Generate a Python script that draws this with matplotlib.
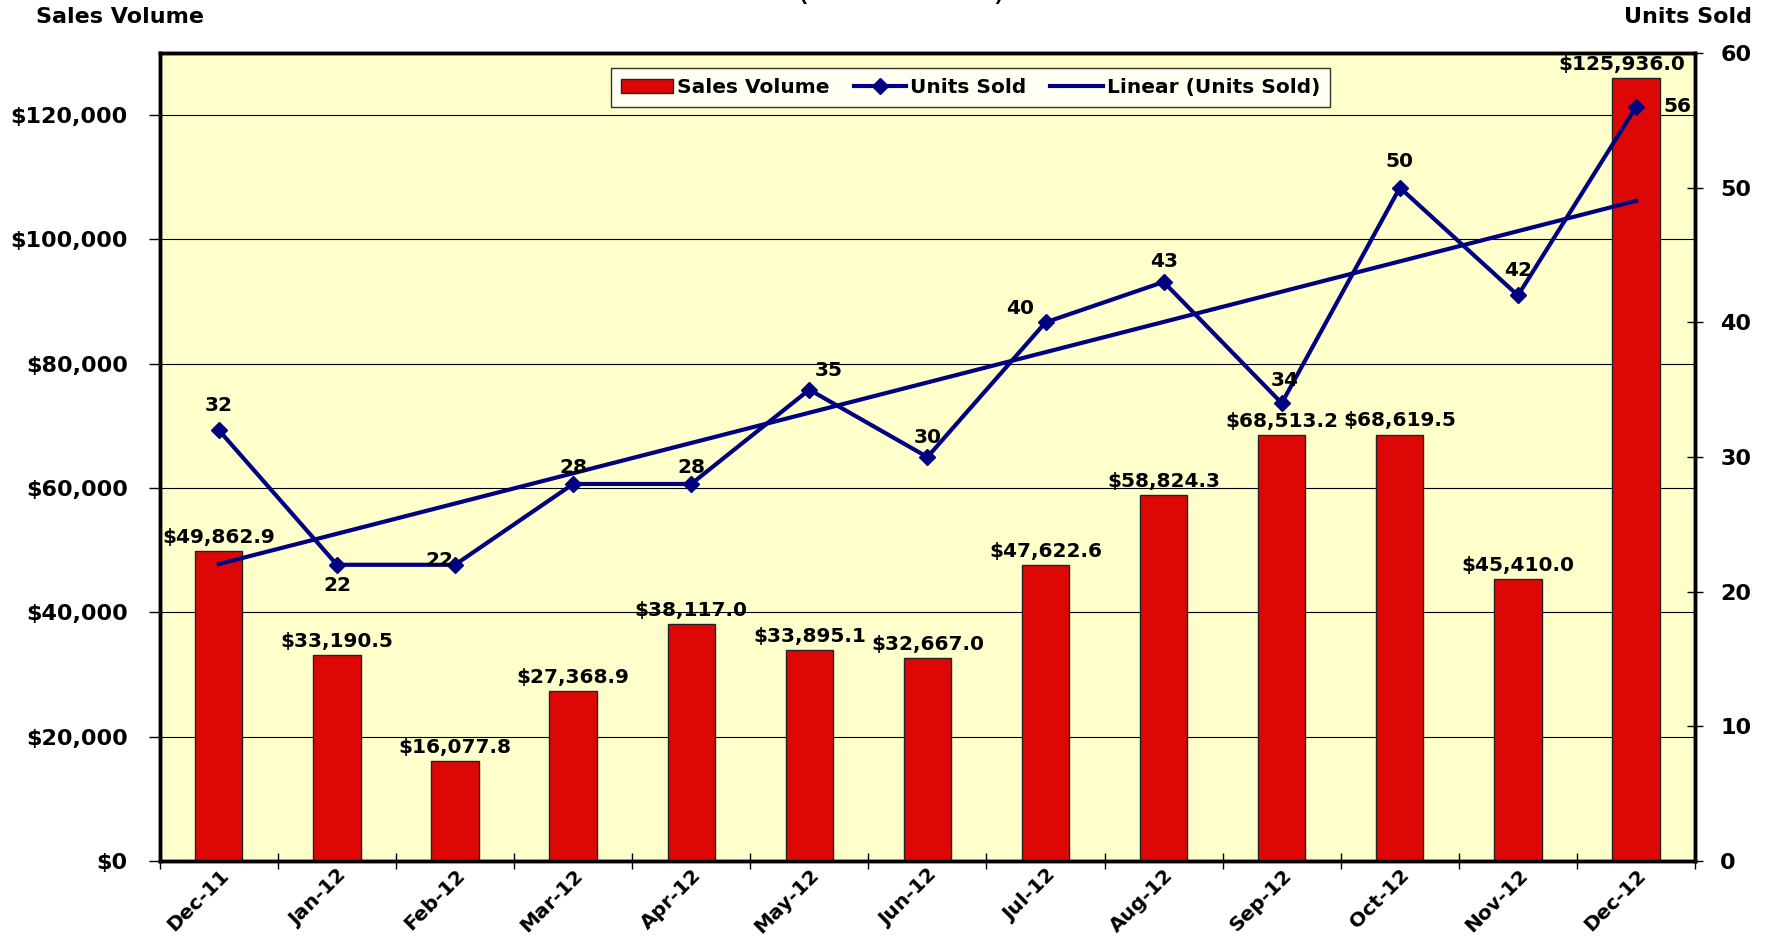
import matplotlib
matplotlib.use("Agg")
import matplotlib.pyplot as plt
from matplotlib.ticker import FuncFormatter, FixedLocator
from matplotlib.lines import Line2D
from matplotlib.patches import Patch
import numpy as np

plt.rcParams['font.family'] = ['DejaVu Sans']
plt.rcParams['font.weight'] = 'bold'

months = ["Dec-11", "Jan-12", "Feb-12", "Mar-12", "Apr-12", "May-12", "Jun-12",
          "Jul-12", "Aug-12", "Sep-12", "Oct-12", "Nov-12", "Dec-12"]
sales_volume = [49862.9, 33190.5, 16077.8, 27368.9, 38117.0, 33895.1, 32667.0,
                47622.6, 58824.3, 68513.2, 68619.5, 45410.0, 125936.0]
units_sold = [32, 22, 22, 28, 28, 35, 30, 40, 43, 34, 50, 42, 56]

# label offsets (points)
unit_offsets = [(0, 18), (0, -15), (-11, 3), (0, 12), (0, 12), (14, 14), (0, 14),
                (-18, 10), (0, 15), (2, 16), (0, 19), (0, 18), (30, 0)]
bar_label_dx = [0, 0, 0, 0, 0, 0, 0, 0, 0, 0, 0, 0, -10]

NAVY = "#000080"
RED = "#DD0806"
BG = "#FFFFCC"

fig = plt.figure(figsize=(17.75, 9.38), dpi=100)
ax = fig.add_axes([0.090, 0.082, 0.865, 0.8615])
ax.set_facecolor(BG)
x = np.arange(len(months))

ax.bar(x, sales_volume, width=0.4, color=RED, edgecolor="#222222", linewidth=1.0, zorder=3)
ax.set_xlim(-0.5, len(months) - 0.5)
ax.set_ylim(0, 130000)
ax.yaxis.set_major_locator(FixedLocator(np.arange(0, 130001, 20000)))
ax.yaxis.set_major_formatter(FuncFormatter(lambda v, p: "${:,.0f}".format(v)))
ax.grid(axis='y', color='black', linewidth=0.8, zorder=1)
ax.set_axisbelow(True)

for xi, v, dx in zip(x, sales_volume, bar_label_dx):
    ax.annotate("${:,.1f}".format(v), (xi, v), xytext=(dx, 3), textcoords='offset points',
                ha='center', va='bottom', fontsize=14.5, fontweight='bold', zorder=6)

ax.set_xticks(x)
ax.set_xticklabels(months, rotation=45, ha='right', rotation_mode='anchor',
                   fontsize=14.5, fontweight='bold')
ax.tick_params(axis='x', which='major', length=0, pad=3)
ax.set_xticks(np.arange(-0.5, len(months), 1), minor=True)
ax.tick_params(axis='x', which='minor', length=12, direction='inout', width=1)
ax.tick_params(axis='y', labelsize=16, length=8, width=1, direction='out', pad=15)
for lab in ax.get_yticklabels():
    lab.set_fontweight('bold')
for s in ax.spines.values():
    s.set_linewidth(2.5)

ax2 = ax.twinx()
ax2.set_ylim(0, 60)
ax2.set_yticks(np.arange(0, 61, 10))
ax2.tick_params(axis='y', labelsize=16, length=12, width=1, direction='inout', pad=12)
for lab in ax2.get_yticklabels():
    lab.set_fontweight('bold')
for s in ax2.spines.values():
    s.set_linewidth(2.5)

ax2.plot(x, units_sold, color=NAVY, linewidth=3, marker='D', markersize=8, zorder=5)
coef = np.polyfit(x, units_sold, 1)
ax2.plot(x, np.polyval(coef, x), color=NAVY, linewidth=3, zorder=4)

for xi, v, off in zip(x, units_sold, unit_offsets):
    t = ax2.annotate(str(v), (xi, v), xytext=off, textcoords='offset points',
                     ha='center', va='center', fontsize=14.5, fontweight='bold', zorder=7)
    t.set_clip_on(True)

handles = [Patch(facecolor=RED, edgecolor='#222222', linewidth=1.0),
           Line2D([], [], color=NAVY, linewidth=3, marker='D', markersize=8),
           Line2D([], [], color=NAVY, linewidth=3)]
leg = ax2.legend(handles, ["Sales Volume", "Units Sold", "Linear (Units Sold)"],
                 loc='upper center', bbox_to_anchor=(0.528, 0.994), ncol=3,
                 frameon=True, fancybox=False, edgecolor='black', fontsize=14.5,
                 handlelength=2.6, handletextpad=0.2, columnspacing=1.2,
                 borderpad=0.5)
leg.get_frame().set_linewidth(1.0)
for t in leg.get_texts():
    t.set_fontweight('bold')

fig.text(0.020, 0.982, "Sales Volume", ha='left', va='center', fontsize=16, fontweight='bold')
fig.text(0.987, 0.982, "Units Sold", ha='right', va='center', fontsize=16, fontweight='bold')
fig.text(0.508, 1.0, "(Dec-11 thru Dec-12)", ha='center', va='baseline', fontsize=15,
         fontweight='bold', family=['Liberation Sans'])

fig.savefig("out.png", dpi=100, facecolor='white')
